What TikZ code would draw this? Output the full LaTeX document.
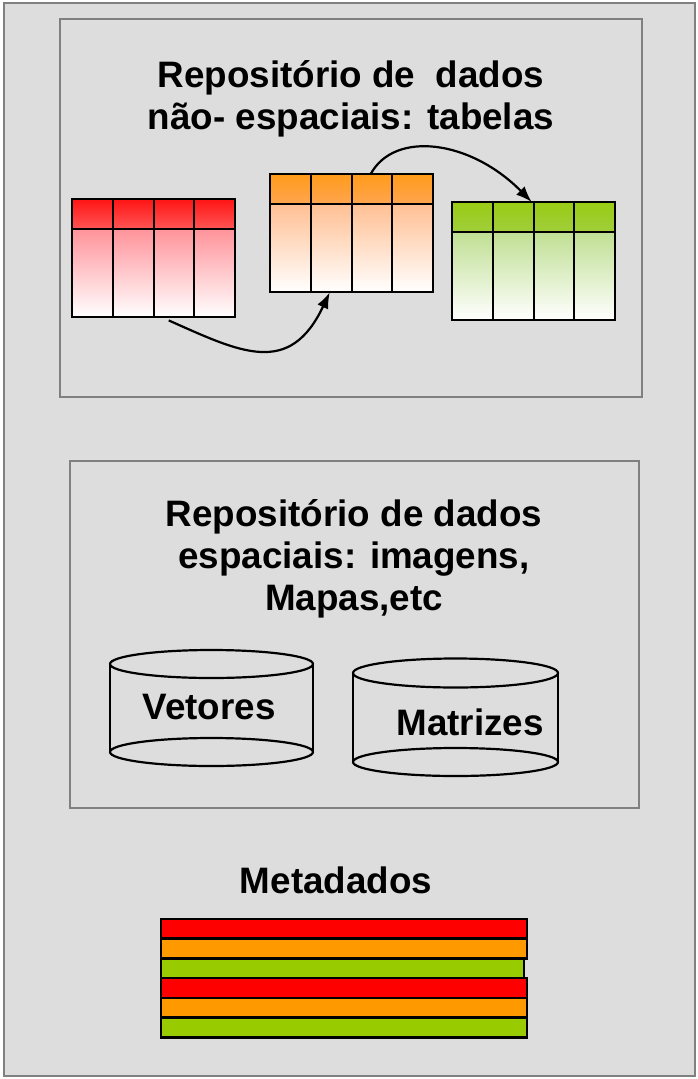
\documentclass[tikz,border=0pt]{standalone}
\usepackage{fontspec}
\setmainfont{Liberation Sans}
\usepackage{xcolor}
\usetikzlibrary{arrows.meta}

\definecolor{framegray}{HTML}{808080}
\definecolor{panelgray}{HTML}{DDDDDD}
\definecolor{redhi}{RGB}{255,20,20}
\definecolor{redlo}{RGB}{255,85,85}
\definecolor{redbody}{RGB}{255,110,120}
\definecolor{orangehi}{RGB}{255,155,25}
\definecolor{orangelo}{RGB}{255,165,80}
\definecolor{orangebody}{RGB}{255,170,110}
\definecolor{greenhi}{RGB}{153,204,20}
\definecolor{greenlo}{RGB}{160,206,60}
\definecolor{greenbody}{RGB}{170,212,110}
\definecolor{metared}{HTML}{FF0000}
\definecolor{metaorange}{HTML}{FF9900}
\definecolor{metagreen}{HTML}{99CC00}

\tikzset{
  panel/.style={draw=framegray,line width=2.5pt,fill=panelgray},
  titletext/.style={font=\fontsize{36.8}{42}\selectfont\bfseries,align=center,inner sep=0pt},
  gridline/.style={line width=2.8pt},
  flow/.style={-{Latex[length=16pt,width=12pt]},line width=2.2pt},
  drum/.style={line width=2.2pt},
  metabar/.style={draw=black,line width=2.6pt},
}

% table: #1 name, #2 top left corner, #3 colour prefix
\newcommand{\datatable}[3]{%
  \coordinate (#1-nw) at #2;
  \shade[top color=#3hi,bottom color=#3lo] (#1-nw) rectangle ++(163,30);
  \shade[top color=#3body,bottom color=white] (#1-nw) ++(0,30) rectangle ++(163,88);
  \draw[gridline] (#1-nw) rectangle ++(163,118);
  \draw[gridline] (#1-nw) ++(0,30) -- ++(163,0);
  \foreach \c in {41,82,122}
    \draw[gridline] (#1-nw) ++(\c,0) -- ++(0,118);
  \node[inner sep=0pt,minimum width=163pt,minimum height=118pt,anchor=north west] (#1) at (#1-nw) {};
}

\begin{document}
\begin{tikzpicture}[x=1pt,y=-1pt]
  \useasboundingbox[fill=white] (0,0) rectangle (698,1079);
  \draw[panel] (4,3) rectangle (695,1076);

  % non-spatial repository
  \draw[panel] (60,19) rectangle (642,397);
  \node[titletext,anchor=base] (tabtitle) at (351,129) {Repositório de \ dados\\não- espaciais: tabelas};
  \datatable{redtab}{(72,199)}{red}
  \datatable{orangetab}{(270,174)}{orange}
  \datatable{greentab}{(452,202)}{green}
  \draw[flow] ([shift={(15,3)}]redtab.south) .. controls +(72,32) and +(-40,85) .. ([xshift=-22pt]orangetab.south);
  \draw[flow] ([xshift=19pt]orangetab.north) .. controls +(24,-44) and +(-61,-62) .. ([xshift=-2pt]greentab.north);

  % spatial repository
  \draw[panel] (70,461) rectangle (639,808);
  \node[titletext,anchor=base] (maptitle) at (354,610) {Repositório de dados\\espaciais: imagens,\\Mapas,etc};
  \draw[drum] (211.5,664) ellipse (101.5 and 14);
  \draw[drum] (211.5,752) ellipse (101.5 and 14);
  \draw[drum] (110,664) -- (110,752) (313,664) -- (313,752);
  \node[titletext] (vetores) at (209,707) {Vetores};
  \draw[drum] (455.5,673) ellipse (102.5 and 14.5);
  \draw[drum] (455.5,762) ellipse (102.5 and 14);
  \draw[drum] (353,673) -- (353,762) (558,673) -- (558,762);
  \node[titletext] (matrizes) at (470,722) {Matrizes};

  % metadata
  \node[titletext,anchor=base] (metatitle) at (336,893) {Metadados};
  \foreach \col/\w [count=\i] in {metared/366,metaorange/366,metagreen/363,metared/366,metaorange/366,metagreen/366}
    \draw[metabar,fill=\col] (161,{919+(\i-1)*19.7}) rectangle ++(\w,19.7);
\end{tikzpicture}
\end{document}
